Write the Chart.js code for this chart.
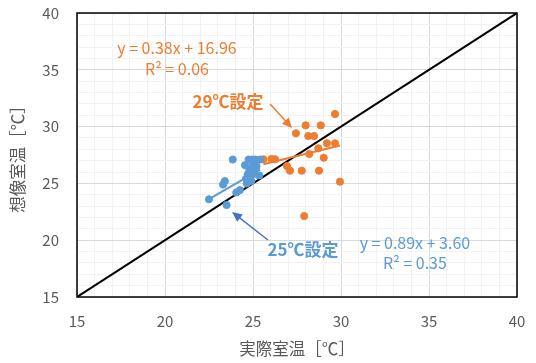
<!DOCTYPE html>
<html>
<head>
<meta charset="utf-8">
<script src="https://cdn.jsdelivr.net/npm/chart.js"></script>
<style>
  html, body { margin: 0; padding: 0; background: #fff; }
  #wrap { width: 536px; height: 363px; }
</style>
</head>
<body>
<div id="wrap"><canvas id="c"></canvas></div>
<script>
// 25℃設定 (blue)
const blueX = [23.85, 24.75, 24.95, 25.15, 25.4, 24.55, 25.0, 25.2, 24.8, 25.05, 24.7, 25.0, 25.35, 24.6, 24.9, 24.65, 23.4, 23.3, 24.25, 24.05, 22.5, 23.5];
const blueY = [27.1, 27.1, 27.1, 27.1, 27.1, 26.6, 26.6, 26.5, 26.2, 26.2, 25.8, 25.8, 25.7, 25.4, 25.2, 25.0, 25.2, 24.9, 24.4, 24.2, 23.6, 23.1];
// 29℃設定 (orange)
const orangeX = [27.44, 28.14, 28.47, 27.99, 28.85, 29.66, 29.2, 29.66, 28.71, 28.2, 29.02, 26.25, 26.05, 25.59, 26.93, 27.1, 27.77, 28.75, 29.94, 27.91];
const orangeY = [29.41, 29.17, 29.17, 30.11, 30.11, 31.11, 28.53, 28.53, 28.09, 27.59, 27.26, 27.12, 27.15, 27.12, 26.53, 26.12, 26.12, 26.12, 25.15, 22.13];
// trendlines (slope, intercept) as printed
const blueFit = [0.89, 3.60];
const orangeFit = [0.38, 16.96];
const axisMin = 15, axisMax = 40;

const pts = (xs, ys) => xs.map((x, i) => ({ x: x, y: ys[i] }));
function fitLine(xs, fit) {
  const lo = Math.min(...xs), hi = Math.max(...xs);
  return [{ x: lo, y: fit[0] * lo + fit[1] }, { x: hi, y: fit[0] * hi + fit[1] }];
}

const BLUE = '#5B9BD5', ORANGE = '#ED7D31', GREY = '#595959';
const FONT = "'Noto Sans CJK JP', 'Noto Sans', sans-serif";

// text and arrows, placed in data coordinates
const notes = [
  { text: 'y = 0.38x + 16.96', x: 20.68, y: 36.92, color: ORANGE, bold: false },
  { text: 'R² = 0.06', x: 20.68, y: 35.07, color: ORANGE, bold: false },
  { text: '29℃設定', x: 23.58, y: 32.19, color: ORANGE, bold: true },
  { text: '25℃設定', x: 27.84, y: 19.19, color: BLUE, bold: true },
  { text: 'y = 0.89x + 3.60', x: 34.2, y: 19.75, color: BLUE, bold: false },
  { text: 'R² = 0.35', x: 34.2, y: 17.99, color: BLUE, bold: false }
];
const arrows = [
  { from: [25.97, 31.99], to: [27.22, 29.88], color: ORANGE },
  { from: [25.85, 20.02], to: [23.81, 22.48], color: '#4472C4' }
];

const extras = {
  id: 'extras',
  afterDraw(chart) {
    const { ctx, chartArea: a, scales: { x, y } } = chart;
    ctx.save();
    // frame
    ctx.strokeStyle = '#000';
    ctx.lineWidth = 1.5;
    ctx.strokeRect(a.left, a.top, a.right - a.left, a.bottom - a.top);
    // arrows
    arrows.forEach(ar => {
      const x1 = x.getPixelForValue(ar.from[0]), y1 = y.getPixelForValue(ar.from[1]);
      const x2 = x.getPixelForValue(ar.to[0]), y2 = y.getPixelForValue(ar.to[1]);
      const ang = Math.atan2(y2 - y1, x2 - x1);
      ctx.strokeStyle = ar.color;
      ctx.fillStyle = ar.color;
      ctx.lineWidth = 1.5;
      ctx.beginPath();
      ctx.moveTo(x1, y1);
      ctx.lineTo(x2 - 6 * Math.cos(ang), y2 - 6 * Math.sin(ang));
      ctx.stroke();
      ctx.beginPath();
      ctx.moveTo(x2, y2);
      ctx.lineTo(x2 - 10 * Math.cos(ang) + 4.5 * Math.sin(ang), y2 - 10 * Math.sin(ang) - 4.5 * Math.cos(ang));
      ctx.lineTo(x2 - 10 * Math.cos(ang) - 4.5 * Math.sin(ang), y2 - 10 * Math.sin(ang) + 4.5 * Math.cos(ang));
      ctx.closePath();
      ctx.fill();
    });
    // labels
    ctx.textAlign = 'center';
    ctx.textBaseline = 'middle';
    notes.forEach(n => {
      ctx.font = (n.bold ? 'bold 17px ' : '16px ') + FONT;
      ctx.fillStyle = n.color;
      ctx.fillText(n.text, x.getPixelForValue(n.x), y.getPixelForValue(n.y));
    });
    ctx.restore();
  }
};

const gridColor = c => (c.tick && c.tick.value % 5 === 0) ? '#d9d9d9' : '#f2f2f2';
const tickCb = v => (v % 5 === 0 ? v : '');

new Chart(document.getElementById('c'), {
  type: 'scatter',
  data: {
    datasets: [
      { type: 'line', data: [{ x: axisMin, y: axisMin }, { x: axisMax, y: axisMax }], borderColor: '#000', borderWidth: 2, pointRadius: 0, order: 3 },
      { type: 'line', data: fitLine(blueX, blueFit), borderColor: BLUE, borderWidth: 2, pointRadius: 0, order: 2 },
      { type: 'line', data: fitLine(orangeX, orangeFit), borderColor: ORANGE, borderWidth: 2, pointRadius: 0, order: 2 },
      { data: pts(blueX, blueY), backgroundColor: BLUE, borderColor: BLUE, pointRadius: 3.6, order: 1 },
      { data: pts(orangeX, orangeY), backgroundColor: ORANGE, borderColor: ORANGE, pointRadius: 3.6, order: 1 }
    ]
  },
  options: {
    responsive: true,
    maintainAspectRatio: false,
    animation: false,
    layout: { padding: { top: 13, right: 19, left: 0, bottom: 0 } },
    plugins: { legend: { display: false }, tooltip: { enabled: false } },
    scales: {
      x: {
        type: 'linear', min: axisMin, max: axisMax,
        // fixed box so the plot area sits where the reference has it
        afterFit: s => { s.height = 66; s.paddingLeft = 0; s.paddingRight = 0; },
        ticks: { stepSize: 1, autoSkip: false, maxRotation: 0, callback: tickCb, color: GREY, font: { size: 15, family: FONT }, padding: 15 },
        grid: { color: gridColor, drawTicks: false },
        border: { display: false },
        title: { display: true, text: '実際室温［℃］', color: GREY, font: { size: 16.5, family: FONT }, padding: { top: 0, bottom: 4 } }
      },
      y: {
        type: 'linear', min: axisMin, max: axisMax,
        afterFit: s => { s.width = 77; s.paddingTop = 0; s.paddingBottom = 0; },
        ticks: { stepSize: 1, autoSkip: false, callback: tickCb, color: GREY, font: { size: 15, family: FONT }, padding: 18 },
        grid: { color: gridColor, drawTicks: false },
        border: { display: false },
        title: { display: true, text: '想像室温［℃］', color: GREY, font: { size: 16.5, family: FONT }, padding: { top: 8, bottom: 0 } }
      }
    }
  },
  plugins: [extras]
});
</script>
</body>
</html>
